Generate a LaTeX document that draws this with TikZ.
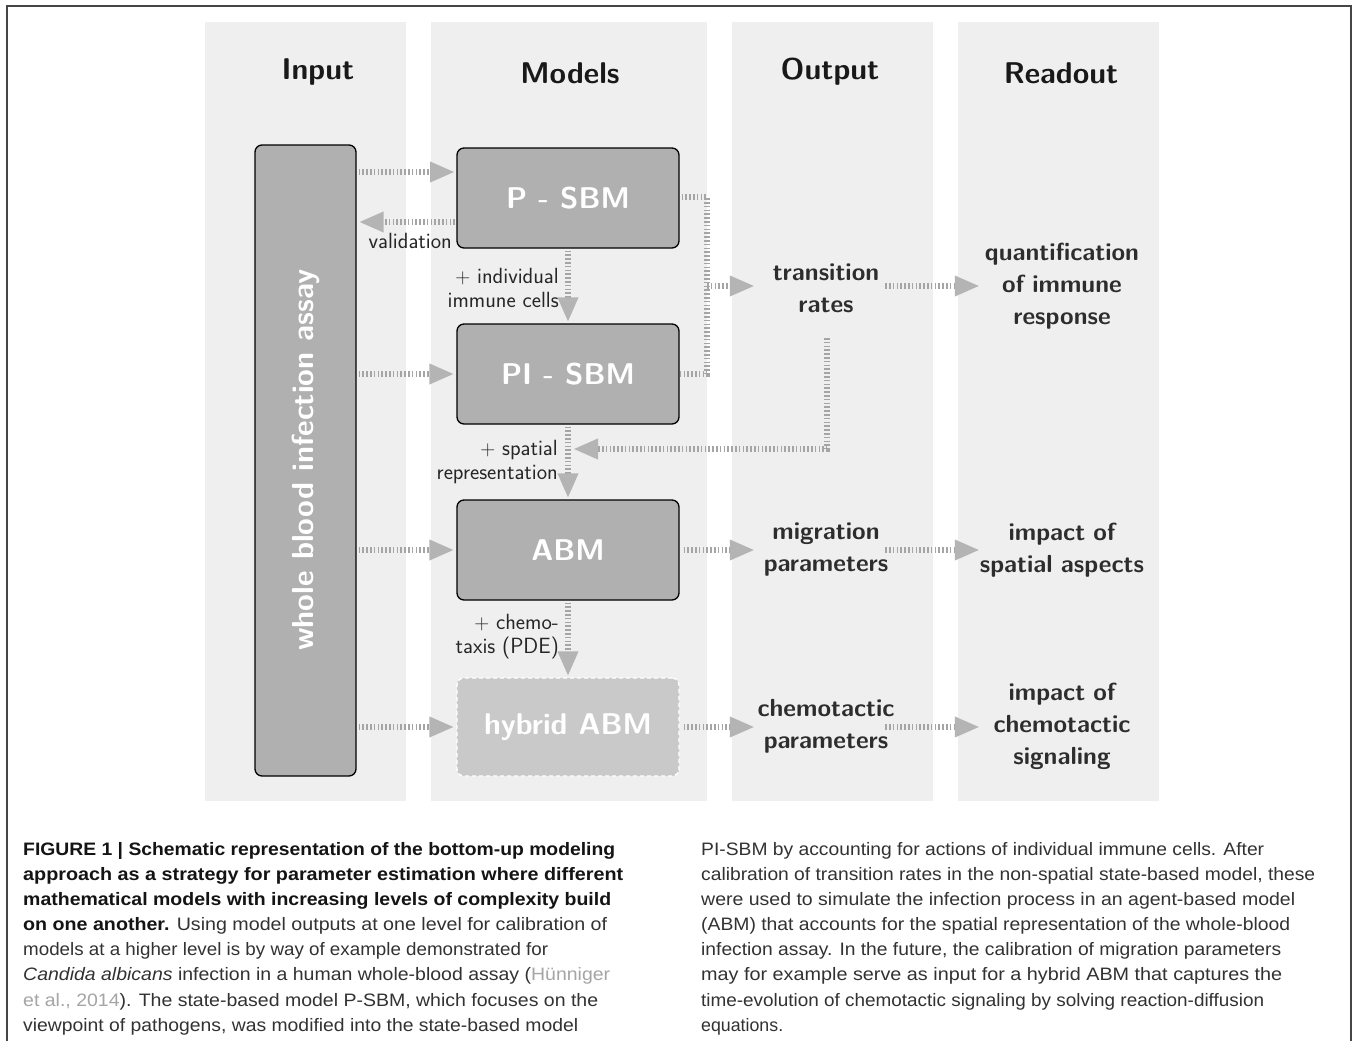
\documentclass[tikz,border=0pt]{standalone}
\usepackage{fontspec}
\usepackage{graphicx}
\newfontfamily\capfont{Liberation Sans}
\usetikzlibrary{arrows.meta}
\definecolor{colbg}{RGB}{239,239,239}
\definecolor{boxgray}{RGB}{176,176,176}
\definecolor{hybgray}{RGB}{201,201,201}
\definecolor{conngray}{RGB}{165,165,165}
\definecolor{tipgray}{RGB}{180,180,180}
\definecolor{txtdark}{RGB}{45,45,45}
\definecolor{titledark}{RGB}{25,25,25}
\definecolor{capbold}{RGB}{20,20,20}
\definecolor{captext}{RGB}{50,50,50}
\definecolor{citegray}{RGB}{165,165,165}
\definecolor{framecol}{RGB}{70,70,70}
\tikzset{
  colbox/.style={fill=colbg, draw=none, inner sep=0pt},
  coltitle/.style={font=\fontsize{30}{36}\selectfont\sffamily\bfseries, text=titledark, anchor=base, inner sep=0pt},
  model/.style={rounded corners=7pt, draw=black, line width=1.3pt, fill=boxgray, minimum width=222pt, minimum height=100pt,
    text=white, font=\fontsize{30}{36}\selectfont\sffamily\bfseries, inner sep=0pt},
  hybridbox/.style={model, draw=white, dashed, fill=hybgray, dash pattern=on 4pt off 3pt},
  outtxt/.style={font=\fontsize{24.7}{32}\selectfont\sffamily\bfseries, text=txtdark, align=center, inner sep=0pt, text width=142pt},
  readtxt/.style={font=\fontsize{24.7}{32}\selectfont\sffamily\bfseries, text=txtdark, align=center, inner sep=0pt, text width=190pt},
  lbl/.style={font=\fontsize{22}{24}\selectfont\sffamily, text=black!85, align=right, inner sep=0pt, anchor=east},
  connline/.style={draw=conngray, line width=6.8pt, dash pattern=on 1.6pt off 2.2pt},
  conn/.style={connline, -{Triangle[length=25pt,width=19pt,fill=tipgray,color=tipgray]}},
  capl/.style={anchor=base west, inner sep=0pt, font=\fontsize{18}{25}\selectfont\capfont, text=captext},
}
\newcommand{\capline}[4]{\node[capl] (#1) at (#2) {\resizebox{#3pt}{\height}{#4}};}
\begin{document}
\begin{tikzpicture}[x=1pt,y=-1pt]
\useasboundingbox (0,0) rectangle (1357,1041);
\fill[white] (0,0) rectangle (1357,1041);
\draw[framecol, line width=1.2pt] (7,1045) -- (7,6) -- (1351,6) -- (1351,1045);

% columns
\node[colbox, minimum width=201pt, minimum height=779pt] (colin) at (305.5,411.5) {};
\node[colbox, minimum width=276pt, minimum height=779pt] (colmod) at (568.5,411.5) {};
\node[colbox, minimum width=201pt, minimum height=779pt] (colout) at (832.5,411.5) {};
\node[colbox, minimum width=201pt, minimum height=779pt] (colread) at (1058.5,411.5) {};

% titles
\node[coltitle] (tin) at (318,80) {Input};
\node[coltitle] (tmod) at (570,83) {Models};
\node[coltitle] (tout) at (830,80) {Output};
\node[coltitle] (tread) at (1061,83) {Readout};

% input box
\node[rounded corners=7pt, draw=black, line width=1.3pt, fill=boxgray, minimum width=101pt, minimum height=631pt, inner sep=0pt] (wba) at (305.5,460.5) {};
\node[rotate=90, text=white, font=\fontsize{30.4}{36}\selectfont\sffamily\bfseries, inner sep=0pt] (wbatext) at (306,460) {whole blood infection assay};

% model boxes
\node[model] (psbm) at (568,198) {P - SBM};
\node[model] (pisbm) at (568,374) {PI - SBM};
\node[model] (abm) at (568,550) {ABM};
\node[hybridbox, minimum height=98pt] (hyb) at (568,727) {hybrid ABM};

% output texts
\node[outtxt] (trans) at (826,288) {transition\\rates};
\node[outtxt] (mig) at (826,550) {migration\\parameters};
\node[outtxt] (chem) at (826,726) {chemotactic\\parameters};

% readout texts
\node[readtxt] (quant) at (1062,286) {quantification\\of immune\\response};
\node[readtxt] (spat) at (1062,550) {impact of\\spatial aspects};
\node[readtxt] (sig) at (1062,726) {impact of\\chemotactic\\signaling};

% labels
\node[lbl] (lval) at (452,241) {validation};
\node[lbl] (lind) at (559,288) {$+$ individual\\immune cells};
\node[lbl] (lspa) at (558,462) {$+$ spatial\\representation};
\node[lbl] (lche) at (559,637) {$+$ chemo-\\taxis (PDE)};

% connector helper coordinates
\coordinate (pin) at (457,172);
\coordinate (pval) at (457,222);
\coordinate (bt) at (707,197);
\coordinate (bb) at (707,374);
\coordinate (bm) at (707,286);
\coordinate (td) at (827,338);
\coordinate (tc) at (827,449);
\coordinate (tend) at (573,449);

% input -> models
\draw[conn, shorten <=2pt, shorten >=2pt] (wba.east |- pin) -- (pin);
\draw[conn, shorten <=2pt, shorten >=2pt] (pval) -- (wba.east |- pval);
\draw[conn, shorten <=2pt, shorten >=2pt] (wba.east |- pisbm.west) -- (pisbm.west);
\draw[conn, shorten <=2pt, shorten >=2pt] (wba.east |- abm.west) -- (abm.west);
\draw[conn, shorten <=2pt, shorten >=2pt] (wba.east |- hyb.west) -- (hyb.west);

% models downwards
\draw[conn, shorten <=2pt, shorten >=1pt] (psbm.south) -- (pisbm.north);
\draw[conn, shorten <=2pt, shorten >=1pt] (pisbm.south) -- (abm.north);
\draw[conn, shorten <=2pt, shorten >=1pt] (abm.south) -- (hyb.north);

% SBMs -> transition rates
\draw[connline, shorten <=2pt] (psbm.east |- bt) -- (bt) -- (bb) -- (pisbm.east |- bb);
\draw[conn] (bm) -- (trans.west |- bm);
\draw[conn] ([xshift=-12pt]trans.east |- bm) -- ([xshift=13pt]quant.west |- bm);

% transition rates -> ABM edge
\draw[conn] (td) -- (tc) -- (tend);

% ABM / hybrid -> outputs -> readouts
\draw[conn, shorten <=4pt] (abm.east) -- (mig.west |- abm.east);
\draw[conn] ([xshift=-12pt]mig.east |- abm.east) -- ([xshift=13pt]spat.west |- abm.east);
\draw[conn, shorten <=4pt] (hyb.east) -- (chem.west |- hyb.east);
\draw[conn] ([xshift=-12pt]chem.east |- hyb.east) -- ([xshift=13pt]sig.west |- hyb.east);

% caption, left column
\capline{c1}{23,855}{592}{{\color{capbold}\bfseries FIGURE 1 | Schematic representation of the bottom-up modeling}}
\capline{c2}{23,880}{600}{{\color{capbold}\bfseries approach as a strategy for parameter estimation where different}}
\capline{c3}{23,905}{588}{{\color{capbold}\bfseries mathematical models with increasing levels of complexity build}}
\capline{c4}{23,930}{584}{{\color{capbold}\bfseries on one another.} Using model outputs at one level for calibration of}
\capline{c5}{23,955}{525}{models at a higher level is by way of example demonstrated for}
\capline{c6}{23,980}{587}{\itshape Candida albicans\upshape{} infection in a human whole-blood assay ({\color{citegray}Hünniger}}
\capline{c7}{23,1006}{575}{{\color{citegray}et al., 2014}). The state-based model P-SBM, which focuses on the}
\capline{c8}{23,1031}{555}{viewpoint of pathogens, was modified into the state-based model}
% caption, right column
\capline{r1}{701,855}{563}{PI-SBM by accounting for actions of individual immune cells. After}
\capline{r2}{701,880}{614}{calibration of transition rates in the non-spatial state-based model, these}
\capline{r3}{701,905}{594}{were used to simulate the infection process in an agent-based model}
\capline{r4}{701,930}{589}{(ABM) that accounts for the spatial representation of the whole-blood}
\capline{r5}{701,955}{580}{infection assay. In the future, the calibration of migration parameters}
\capline{r6}{701,980}{581}{may for example serve as input for a hybrid ABM that captures the}
\capline{r7}{701,1006}{563}{time-evolution of chemotactic signaling by solving reaction-diffusion}
\capline{r8}{701,1031}{82}{equations.}
\end{tikzpicture}
\end{document}
